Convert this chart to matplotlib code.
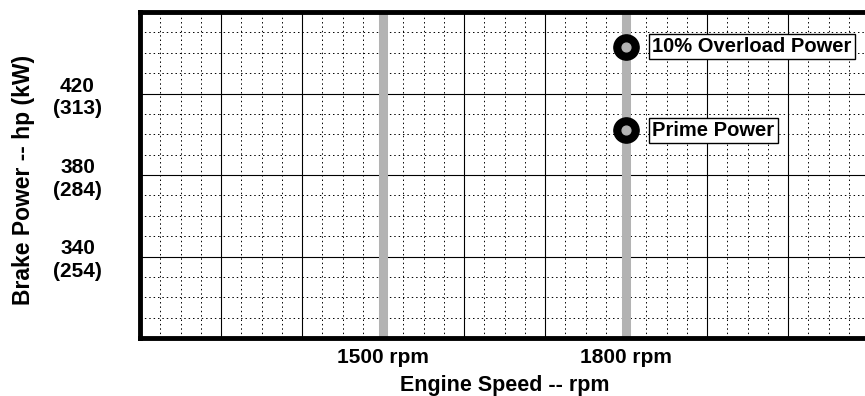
import numpy as np
import matplotlib.pyplot as plt
from matplotlib.ticker import MultipleLocator

plt.rcParams['font.family'] = ['Liberation Sans', 'DejaVu Sans']
plt.rcParams['font.weight'] = 'bold'

# rated speeds (gray lines)
speeds = [1500, 1800]
speed_labels = ['1500 rpm', '1800 rpm']

# rating points at 1800 rpm (hp)
point_rpm = [1800, 1800]
point_hp = [443, 402]
point_names = ['10% Overload Power', 'Prime Power']

# y tick labels hp (kW)
hp_ticks = [340, 380, 420]
kw_ticks = [254, 284, 313]

W, H = 865, 396
fig = plt.figure(figsize=(W / 100, H / 100), dpi=100)
left, right, top, bottom = 140, 869, 12, 338
ax = fig.add_axes([left / W, 1 - bottom / H, (right - left) / W, (bottom - top) / H])

ax.set_xlim(1200, 2100)
ax.set_ylim(300, 460)

# grid
ax.xaxis.set_major_locator(MultipleLocator(100))
ax.xaxis.set_minor_locator(MultipleLocator(25))
ax.yaxis.set_major_locator(MultipleLocator(40))
ax.yaxis.set_minor_locator(MultipleLocator(10))
ax.grid(which='major', color='black', lw=0.8, ls='-')
ax.grid(which='minor', color='black', lw=0.7, ls=(0, (1.5, 3)))
ax.set_axisbelow(True)

xt = np.arange(1200, 2101, 100)
ax.set_xticks(xt)
ax.set_xticklabels([speed_labels[speeds.index(v)] if v in speeds else '' for v in xt],
                   fontsize=15, fontweight='bold')
yt = np.arange(300, 461, 40)
ylabels = []
for v in yt:
    if v in hp_ticks:
        i = hp_ticks.index(v)
        ylabels.append(f'{hp_ticks[i]}\n({kw_ticks[i]})')
    else:
        ylabels.append('')
ax.set_yticks(yt)
ax.set_yticklabels(ylabels, fontsize=15, fontweight='bold', ha='center', linespacing=1.25)
ax.tick_params(which='both', length=0)
ax.tick_params(axis='y', pad=45)
ax.tick_params(axis='x', pad=7)

for s in ['left', 'top', 'bottom']:
    ax.spines[s].set_linewidth(3.5)
ax.spines['right'].set_visible(False)

for s in speeds:
    ax.axvline(s, color='#b3b3b3', lw=6.5, zorder=1.5)

ax.scatter(point_rpm, point_hp, s=330, color='black', zorder=3, clip_on=False)
ax.scatter(point_rpm, point_hp, s=40, color='#b3b3b3', zorder=4)

for x, y, name in zip(point_rpm, point_hp, point_names):
    ax.annotate(name, (x, y), xytext=(19, 0), textcoords='offset points',
                ha='left', va='center', fontsize=14.5, fontweight='bold',
                bbox=dict(boxstyle='square,pad=0.15', fc='white', ec='black', lw=1),
                zorder=5)

ax.set_xlabel('Engine Speed -- rpm', fontsize=15.5, fontweight='bold')
ax.xaxis.set_label_coords(0.5, -0.112)
ax.set_ylabel('Brake Power -- hp (kW)', fontsize=16.5, fontweight='bold')
ax.yaxis.set_label_coords(-0.144, 0.485)

fig.savefig('out.png', dpi=100)
